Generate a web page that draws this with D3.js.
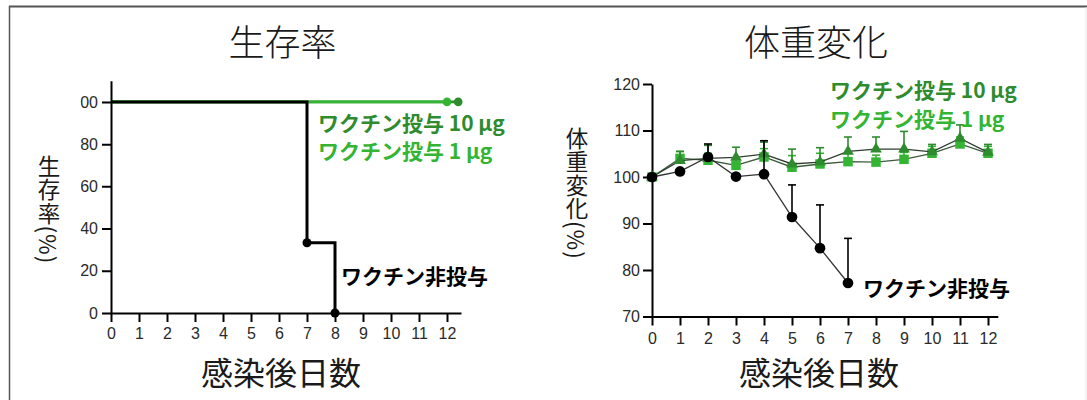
<!DOCTYPE html>
<html><head><meta charset="utf-8">
<script src="https://cdn.jsdelivr.net/npm/d3@7"></script>
<style>body{margin:0;background:#fff;} svg{display:block;}</style>
</head><body>
<svg id="c" width="1087" height="400"></svg>
<script>
// ---------- data ----------
const dayTicks = [0,1,2,3,4,5,6,7,8,9,10,11,12];

// survival (Kaplan-Meier steps)
const survDaysNone = [0, 7, 8];
const survNone     = [100, 33.3, 0];
const survDays1    = [0, 12];
const surv1        = [100, 100];
const survDays10   = [0, 12.4];
const surv10       = [100, 100];
const survYTicks   = [0, 20, 40, 60, 80, 100];

// body weight change (%)
const wDaysNone = [0,1,2,3,4,5,6,7];
const wNone     = [100, 101.2, 104.3, 100.1, 100.6, 91.4, 84.7, 77.2];
const wNoneErr  = [0, 0.5, 2.8, 0.5, 7.2, 6.9, 9.3, 9.6];
const wDays     = [0,1,2,3,4,5,6,7,8,9,10,11,12];
const w10       = [100, 103.5, 104.0, 104.2, 104.9, 102.8, 103.2, 105.5, 106.0, 106.0, 105.4, 108.3, 105.3];
const w10Err    = [0, 2.0, 2.8, 2.2, 2.6, 3.2, 3.1, 3.1, 2.6, 3.8, 1.6, 2.9, 1.7];
const w1        = [100, 104.0, 103.6, 102.5, 104.3, 102.1, 102.8, 103.3, 103.2, 103.8, 105.1, 107.1, 105.1];
const w1Err     = [0, 1.5, 1.5, 1.5, 1.8, 2.5, 2.3, 1.8, 1.5, 1.5, 1.5, 1.5, 1.5];
const wYTicks   = [70, 80, 90, 100, 110, 120];

const titles     = ["生存率", "体重変化"];
const xTitle     = "感染後日数";
const yTitleLeft = "生存率(%)";
const yTitleRight= "体重変化(%)";
const legend10   = "ワクチン投与 10 μg";
const legend1    = "ワクチン投与 1 μg";
const legendNone = "ワクチン非投与";

// ---------- style ----------
const C10 = "#2e8b2e", C1 = "#33b533", CN = "#000";
const CJK = "'Noto Sans CJK JP','Noto Sans',sans-serif";
const NUM = "'Liberation Sans',Arial,sans-serif";

const svg = d3.select("#c");
svg.append("rect").attr("width",1087).attr("height",400).attr("fill","#fff");
// frame
svg.append("line").attr("x1",9).attr("x2",1087).attr("y1",6.5).attr("y2",6.5).attr("stroke","#555").attr("stroke-width",2);
svg.append("line").attr("x1",9.5).attr("x2",9.5).attr("y1",6).attr("y2",400).attr("stroke","#555").attr("stroke-width",1.5);
svg.append("line").attr("x1",1086).attr("x2",1086).attr("y1",7).attr("y2",400).attr("stroke","#e8e8e8").attr("stroke-width",1);

function styleAxis(g){
  g.select(".domain").attr("stroke","#000").attr("stroke-width",2);
  g.selectAll(".tick line").attr("stroke","#000").attr("stroke-width",2);
  g.selectAll(".tick text").attr("fill","#2a2a2a").style("font-family",NUM).style("font-size","16px");
}
function title(x, y, t){
  svg.append("text").attr("x",x).attr("y",y).attr("text-anchor","middle")
    .style("font-family",CJK).style("font-size","36px").style("font-weight",300).attr("fill","#1a1a1a").text(t);
}
function vLabel(x, top, t){
  svg.append("text").attr("x",x).attr("y",top)
    .style("writing-mode","vertical-rl").style("text-orientation","mixed")
    .style("letter-spacing","1px")
    .style("font-family",CJK).style("font-size","22.5px").attr("fill","#1a1a1a").text(t);
}
function legendText(x, y, t, color){
  svg.append("text").attr("x",x).attr("y",y).attr("dominant-baseline","central")
    .style("font-family",CJK).style("font-size","21px").style("font-weight",700).attr("fill",color).text(t);
}

// ================= LEFT: survival =================
{
  const x = d3.scaleLinear().domain([0,12.5]).range([111,461]);
  const y = d3.scaleLinear().domain([0,110]).range([313,80.8]);

  title(282.5, 56, titles[0]);

  const stepLine = d3.line().x(d=>x(d[0])).y(d=>y(d[1])).curve(d3.curveStepAfter);
  const pts = (ds, vs)=> ds.map((d,i)=>[d, vs[i]]);

  // green lines (below black)
  svg.append("path").datum(pts(survDays10,surv10)).attr("d",stepLine).attr("fill","none").attr("stroke",C10).attr("stroke-width",2.6);
  svg.append("path").datum(pts(survDays1,surv1)).attr("d",stepLine).attr("fill","none").attr("stroke",C1).attr("stroke-width",2.6);
  svg.append("circle").attr("cx",x(survDays1[1])).attr("cy",y(surv1[1])).attr("r",4.3).attr("fill",C1);
  svg.append("circle").attr("cx",x(survDays10[1])).attr("cy",y(surv10[1])).attr("r",4.3).attr("fill",C10);

  // axes (tick labels cut at the left edge as in the reference)
  const clip = svg.append("clipPath").attr("id","lclip");
  clip.append("rect").attr("x",80.5 - x(0)).attr("y",0).attr("width",120).attr("height",400);
  const ya = svg.append("g").attr("transform",`translate(${x(0)},0)`).attr("clip-path","url(#lclip)")
    .call(d3.axisLeft(y).tickValues(survYTicks).tickSize(9).tickPadding(4).tickSizeOuter(0));
  styleAxis(ya);
  const xa = svg.append("g").attr("transform",`translate(0,${y(0)})`)
    .call(d3.axisBottom(x).tickValues(dayTicks).tickSize(9).tickPadding(6).tickSizeOuter(0));
  styleAxis(xa);

  // black step line
  svg.append("path").datum(pts(survDaysNone,survNone)).attr("d",stepLine).attr("fill","none").attr("stroke",CN).attr("stroke-width",3);
  svg.selectAll(null).data(pts(survDaysNone,survNone).slice(1)).enter().append("circle")
    .attr("cx",d=>x(d[0])).attr("cy",d=>y(d[1])).attr("r",4.5).attr("fill",CN);

  vLabel(49, 155, yTitleLeft);
  svg.append("text").attr("x",281).attr("y",385).attr("text-anchor","middle")
    .style("font-family",CJK).style("font-size","32px").attr("fill","#1a1a1a").text(xTitle);

  legendText(318, 121.5, legend10, C10);
  legendText(318, 149.5, legend1, C1);
  legendText(341, 275, legendNone, CN);
}

// ================= RIGHT: body weight =================
{
  const x = d3.scaleLinear().domain([0,12.35]).range([652,997.8]);
  const y = d3.scaleLinear().domain([70,120]).range([316.5,84]);

  title(816, 56, titles[1]);

  const ya = svg.append("g").attr("transform",`translate(${x(0)},0)`)
    .call(d3.axisLeft(y).tickValues(wYTicks).tickSize(9).tickPadding(3).tickSizeOuter(0));
  styleAxis(ya);
  const xa = svg.append("g").attr("transform",`translate(0,${y(70)})`)
    .call(d3.axisBottom(x).tickValues(dayTicks).tickSize(9).tickPadding(7).tickSizeOuter(0));
  styleAxis(xa);

  const line = d3.line().x(d=>x(d[0])).y(d=>y(d[1]));
  function series(days, vals, errs, color, lineColor, marker){
    const data = days.map((d,i)=>[d, vals[i], errs[i]]);
    const g = svg.append("g");
    // error bars (upper)
    data.filter(d=>d[2]>0).forEach(d=>{
      g.append("line").attr("x1",x(d[0])).attr("x2",x(d[0])).attr("y1",y(d[1])).attr("y2",y(d[1]+d[2]))
        .attr("stroke",color).attr("stroke-width",1.6);
      g.append("line").attr("x1",x(d[0])-4).attr("x2",x(d[0])+4).attr("y1",y(d[1]+d[2])).attr("y2",y(d[1]+d[2]))
        .attr("stroke",color).attr("stroke-width",1.6);
    });
    g.append("path").datum(data).attr("d",line).attr("fill","none").attr("stroke",lineColor).attr("stroke-width",1.3);
    g.selectAll(null).data(data).enter().append("path")
      .attr("transform",d=>`translate(${x(d[0])},${y(d[1])})`)
      .attr("d",d3.symbol().type(marker.type).size(marker.size))
      .attr("fill",color);
  }
  series(wDays, w1, w1Err, C1, "#3d5a3d", {type:d3.symbolSquare, size:90});
  series(wDays, w10, w10Err, C10, "#2f3f2f", {type:d3.symbolTriangle, size:60});
  series(wDaysNone, wNone, wNoneErr, CN, "#333", {type:d3.symbolCircle, size:90});

  vLabel(577, 127, yTitleRight);
  svg.append("text").attr("x",819).attr("y",385).attr("text-anchor","middle")
    .style("font-family",CJK).style("font-size","32px").attr("fill","#1a1a1a").text(xTitle);

  legendText(830, 89, legend10, C10);
  legendText(830, 117.5, legend1, C1);
  legendText(863, 287, legendNone, CN);
}
</script>
</body></html>
